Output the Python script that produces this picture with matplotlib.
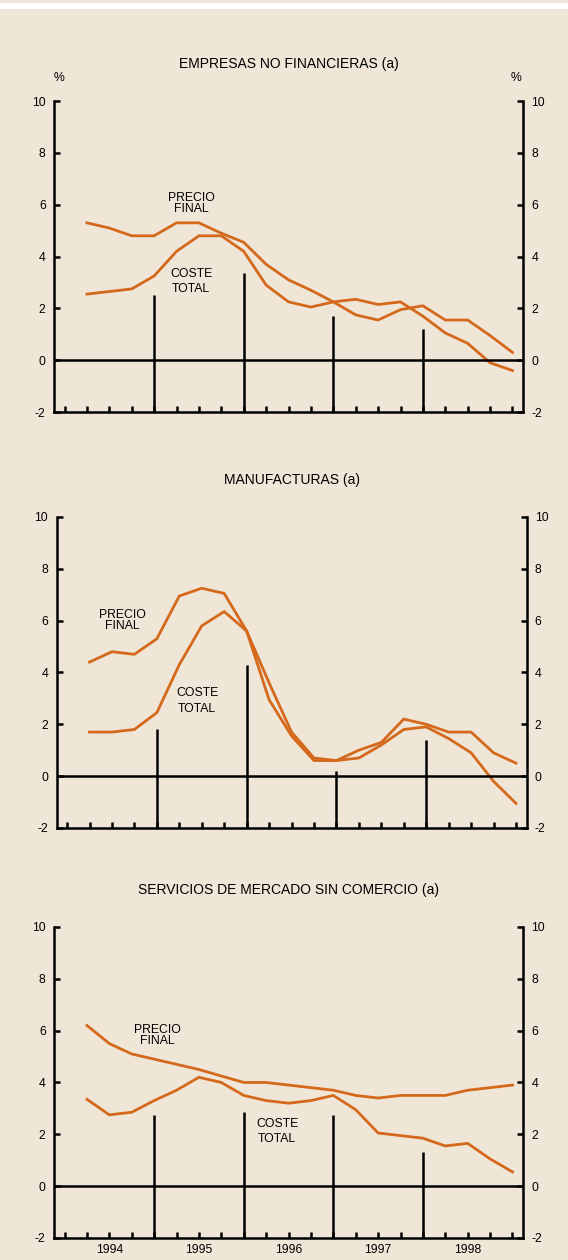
import numpy as np
import matplotlib.pyplot as plt
from matplotlib.patches import Rectangle

plt.rcParams['font.family'] = ['Liberation Sans', 'DejaVu Sans']
plt.rcParams['axes.unicode_minus'] = False

# quarterly points, 1994 Q1 .. 1998 Q4 (x = 1..20)
quarters = np.arange(1, 21)
years = ['1994', '1995', '1996', '1997', '1998']

titles = ['EMPRESAS NO FINANCIERAS (a)', 'MANUFACTURAS (a)',
          'SERVICIOS DE MERCADO SIN COMERCIO (a)']

precio_emp = [5.3, 5.1, 4.8, 4.8, 5.3, 5.3, 4.9, 4.55, 3.7, 3.1,
              2.7, 2.25, 1.75, 1.55, 1.95, 2.1, 1.55, 1.55, 0.95, 0.3]
coste_emp = [2.55, 2.65, 2.75, 3.25, 4.2, 4.8, 4.8, 4.2, 2.9, 2.25,
             2.05, 2.25, 2.35, 2.15, 2.25, 1.7, 1.05, 0.65, -0.1, -0.4]
anual_emp = [2.5, 3.35, 1.7, 1.2]

precio_man = [4.4, 4.8, 4.7, 5.3, 6.95, 7.25, 7.05, 5.6, 3.6, 1.7,
              0.7, 0.6, 1.0, 1.3, 2.2, 2.0, 1.7, 1.7, 0.9, 0.5]
coste_man = [1.7, 1.7, 1.8, 2.45, 4.3, 5.8, 6.35, 5.6, 2.95, 1.55,
             0.6, 0.6, 0.7, 1.2, 1.8, 1.9, 1.45, 0.9, -0.2, -1.05]
anual_man = [1.8, 4.3, 0.2, 1.4]

precio_ser = [6.2, 5.5, 5.1, 4.9, 4.7, 4.5, 4.25, 4.0, 4.0, 3.9,
              3.8, 3.7, 3.5, 3.4, 3.5, 3.5, 3.5, 3.7, 3.8, 3.9]
coste_ser = [3.35, 2.75, 2.85, 3.3, 3.7, 4.2, 4.0, 3.5, 3.3, 3.2,
             3.3, 3.5, 2.95, 2.05, 1.95, 1.85, 1.55, 1.65, 1.05, 0.55]
anual_ser = [2.75, 2.85, 2.75, 1.3]

bg = '#efe6d8'
orange = '#d4691c'
fs = 8.8

fig = plt.figure(figsize=(5.68, 12.6), dpi=100, facecolor=bg)
fig.patches.append(Rectangle((0, 1 - 9 / 1260), 1, 6 / 1260, transform=fig.transFigure,
                             facecolor='white', edgecolor='none'))

panels = [
    (titles[0], precio_emp, coste_emp, anual_emp, [0.0951, 0.6730, 0.8257, 0.2468],
     (5.65, 6.05), (5.65, 3.05), True, False),
    (titles[1], precio_man, coste_man, anual_man, [0.0995, 0.3429, 0.8275, 0.2468],
     (2.45, 6.0), (5.8, 2.9), False, False),
    (titles[2], precio_ser, coste_ser, anual_ser, [0.0951, 0.0175, 0.8257, 0.2468],
     (4.15, 5.8), (9.5, 2.1), False, True),
]

for title, precio, coste, anual, rect, p_pos, c_pos, pct, show_years in panels:
    ax = fig.add_axes(rect)
    ax.set_facecolor(bg)
    ax.set_xlim(-0.47, 20.47)
    ax.set_ylim(-2, 10)

    ax.plot(quarters, precio, color=orange, lw=2.0, solid_joinstyle='miter')
    ax.plot(quarters, coste, color=orange, lw=2.0, solid_joinstyle='miter')
    ax.vlines([4, 8, 12, 16], -2, anual, color='black', lw=1.8)
    ax.axhline(0, color='black', lw=1.8)

    ax.text(p_pos[0], p_pos[1], 'PRECIO\nFINAL', ha='center', va='center',
            fontsize=fs, linespacing=0.9)
    ax.text(c_pos[0], c_pos[1], 'COSTE\nTOTAL', ha='center', va='center',
            fontsize=fs, linespacing=1.35)

    for s in ['left', 'right', 'bottom']:
        ax.spines[s].set_linewidth(1.8)
    ax.spines['top'].set_visible(False)

    ax.set_yticks(np.arange(-2, 11, 2))
    ax.tick_params(axis='y', direction='in', length=4.5, width=1.8, left=True, right=True,
                   labelleft=True, labelright=True, labelsize=fs, pad=6)

    # a tick at every quarter boundary, year names under the middle of each year
    ax.set_xticks(np.arange(0, 21))
    labels = [''] * 21
    if show_years:
        for k, y in enumerate(years):
            labels[2 + 4 * k] = y
    ax.set_xticklabels(labels)
    ax.tick_params(axis='x', direction='in', length=4, width=1.8, labelsize=fs, pad=4)

    ax.set_title(title, fontsize=10, pad=24)
    if pct:
        ax.text(0.01, 1.065, '%', transform=ax.transAxes, ha='center', fontsize=fs)
        ax.text(0.985, 1.065, '%', transform=ax.transAxes, ha='center', fontsize=fs)

fig.savefig('out.png', dpi=100, facecolor=bg)
